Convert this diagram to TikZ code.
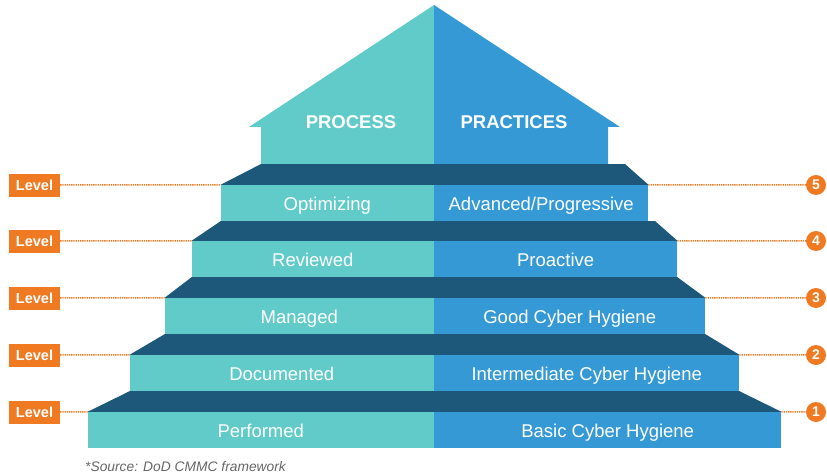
\documentclass[tikz,border=0pt]{standalone}
\usepackage{fontspec}
\setmainfont{Liberation Sans}
\usetikzlibrary{positioning}
\definecolor{procteal}{RGB}{96,203,201}
\definecolor{pracblue}{RGB}{53,153,214}
\definecolor{stairdark}{RGB}{29,87,121}
\definecolor{lvlorange}{RGB}{240,122,34}
\tikzstyle{procstep} = [rectangle, fill=procteal, text=white, minimum height=36pt, inner sep=0pt, text height=16pt, text depth=2pt, font=\fontsize{18.5}{22}\selectfont]
\tikzstyle{pracstep} = [procstep, fill=pracblue]
\tikzstyle{tread} = [fill=stairdark]
\tikzstyle{roofhead} = [text=white, inner sep=0pt, font=\bfseries\fontsize{18.5}{22}\selectfont]
\tikzstyle{lvl} = [rectangle, fill=lvlorange, text=white, minimum width=51pt, minimum height=23pt, inner sep=0pt, font=\bfseries\fontsize{14.5}{16}\selectfont]
\tikzstyle{num} = [circle, fill=lvlorange, text=white, minimum size=20pt, inner sep=0pt, font=\bfseries\fontsize{14}{16}\selectfont]
\tikzstyle{lead} = [draw=lvlorange, dash pattern=on 1.3pt off 0.9pt, line width=1.5pt]

\begin{document}
\begin{tikzpicture}[x=1pt, y=-1pt]
      \useasboundingbox (0,0) rectangle (827,476);

      % roof
      \fill [procteal] (434,5) -- (249,127) -- (261,127) -- (261,164) -- (434,164) -- cycle;
      \fill [pracblue] (434,5) -- (620,127) -- (608,127) -- (608,164) -- (434,164) -- cycle;
      \node (process) [roofhead] at (351,122) {PROCESS};
      \node (practices) [roofhead] at (514,122) {PRACTICES};

      % steps
      \node (optimizing) [procstep, minimum width=213pt, anchor=east] at (434,203) {Optimizing};
      \node (advanced) [pracstep, minimum width=214pt, right=0pt of optimizing] {Advanced/Progressive};
      \node (reviewed) [procstep, minimum width=242pt, anchor=east] at (434,259) {Reviewed};
      \node (proactive) [pracstep, minimum width=243pt, right=0pt of reviewed] {Proactive};
      \node (managed) [procstep, minimum width=269pt, anchor=east] at (434,316) {Managed};
      \node (goodhyg) [pracstep, minimum width=271pt, right=0pt of managed] {Good Cyber Hygiene};
      \node (documented) [procstep, minimum width=304pt, anchor=east] at (434,373) {Documented};
      \node (interhyg) [pracstep, minimum width=305pt, right=0pt of documented] {Intermediate Cyber Hygiene};
      \node (performed) [procstep, minimum width=346pt, anchor=east] at (434,430) {Performed};
      \node (basichyg) [pracstep, minimum width=347pt, right=0pt of performed] {Basic Cyber Hygiene};

      \fill [tread] (261,164) -- (625,164) -- (advanced.north east) -- (optimizing.north west) -- cycle;
      \fill [tread] (optimizing.south west) -- (655,221) -- (proactive.north east) -- (reviewed.north west) -- cycle;
      \fill [tread] (reviewed.south west) -- (proactive.south east) -- (goodhyg.north east) -- (managed.north west) -- cycle;
      \fill [tread] (managed.south west) -- (goodhyg.south east) -- (interhyg.north east) -- (documented.north west) -- cycle;
      \fill [tread] (documented.south west) -- (interhyg.south east) -- (basichyg.north east) -- (performed.north west) -- cycle;

      % levels
      \node (lvl5) [lvl] at (34.5,185) {Level};
      \node (lvl4) [lvl] at (34.5,241) {Level};
      \node (lvl3) [lvl] at (34.5,298) {Level};
      \node (lvl2) [lvl] at (34.5,355) {Level};
      \node (lvl1) [lvl] at (34.5,412) {Level};
      \node (num5) [num] at (816,185) {5};
      \node (num4) [num] at (816,241) {4};
      \node (num3) [num] at (816,298) {3};
      \node (num2) [num] at (816,355) {2};
      \node (num1) [num] at (816,412) {1};

      \draw [lead] (lvl5) -- (optimizing.north west);
      \draw [lead] (lvl4) -- (reviewed.north west);
      \draw [lead] (lvl3) -- (managed.north west);
      \draw [lead] (lvl2) -- (documented.north west);
      \draw [lead] (lvl1) -- (performed.north west);
      \draw [lead] (advanced.north east) -- (num5);
      \draw [lead] (proactive.north east) -- (num4);
      \draw [lead] (goodhyg.north east) -- (num3);
      \draw [lead] (interhyg.north east) -- (num2);
      \draw [lead] (basichyg.north east) -- (num1);

      \node (source) [anchor=west, inner sep=0pt, text=black!60, font=\itshape\fontsize{13.8}{16}\selectfont] at (85,467) {*Source: DoD CMMC framework};
    \end{tikzpicture}
\end{document}
